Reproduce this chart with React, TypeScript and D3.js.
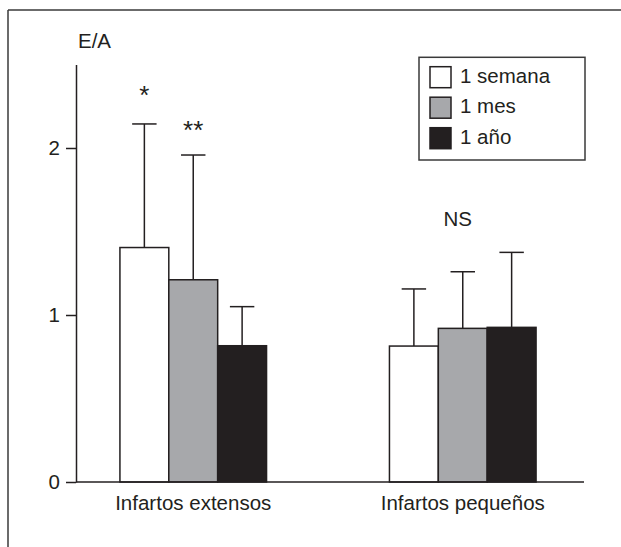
import React from "react";
import * as d3 from "d3";

const groups = ["Infartos extensos", "Infartos pequeños"];
const series = ["1 semana", "1 mes", "1 año"];
const seriesColors = ["#ffffff", "#a7a8ab", "#231f20"];
// mean values per group (rows) and series (cols)
const meanExtensos = [1.404, 1.211, 0.816];
const meanPequenos = [0.814, 0.92, 0.926];
// upper error bar end (mean + SD)
const errExtensos = [2.144, 1.958, 1.05];
const errPequenos = [1.156, 1.259, 1.375];
const yTicks = [0, 1, 2];
const yLabel = "E/A";
const annotations = [
  { group: 0, series: 0, text: "*", value: 2.263 },
  { group: 0, series: 1, text: "**", value: 2.055 },
];
const nsLabel = "NS";

const W = 621;
const H = 547;
const INK = "#231f20";
const FONT = "'Liberation Sans', Arial, Helvetica, sans-serif";

export default function App() {
  const means = [meanExtensos, meanPequenos];
  const errs = [errExtensos, errPequenos];

  const axisX = 76;
  const axisRight = 584;
  const y = d3.scaleLinear().domain([0, 2.5]).range([482, 64.5]);
  const x0 = d3
    .scaleBand<string>()
    .domain(groups)
    .range([axisX, 580])
    .paddingInner(0.456)
    .paddingOuter(0.163);
  const x1 = d3
    .scaleBand<string>()
    .domain(series)
    .range([0, x0.bandwidth()])
    .padding(0);
  const bw = x1.bandwidth();
  const capW = bw / 2;

  const yAxisRef = React.useRef<SVGGElement>(null);
  React.useEffect(() => {
    if (!yAxisRef.current) return;
    const g = d3.select(yAxisRef.current);
    g.call(
      d3
        .axisLeft(y)
        .tickValues(yTicks)
        .tickSize(10)
        .tickSizeOuter(0)
        .tickPadding(6)
        .tickFormat(d3.format("d"))
    );
    g.selectAll("path").attr("stroke", INK).attr("stroke-width", 1.5);
    g.selectAll("line").attr("stroke", INK).attr("stroke-width", 1.5);
    g.selectAll("text")
      .attr("fill", INK)
      .attr("font-size", 20.5)
      .attr("font-family", FONT);
    g.attr("font-family", null).attr("font-size", null);
  });

  const bx = (gi: number, si: number) =>
    (x0(groups[gi]) as number) + (x1(series[si]) as number);

  return (
    <div style={{ position: "fixed", left: 0, top: 0, width: W, height: H, background: "#fff" }}>
      <svg width={W} height={H} style={{ display: "block" }}>
        {/* frame */}
        <line x1={8} y1={10} x2={W} y2={10} stroke="#3a3a3a" strokeWidth={1.5} />
        <line x1={8} y1={10} x2={8} y2={H} stroke="#3a3a3a" strokeWidth={1.5} />

        {/* y label */}
        <text x={78} y={48.3} fontSize={20.5} fontFamily={FONT} fill={INK}>
          {yLabel}
        </text>

        {/* error bars */}
        {groups.map((g, gi) =>
          series.map((s, si) => {
            const cx = bx(gi, si) + bw / 2;
            return (
              <g key={`e-${gi}-${si}`} stroke={INK} strokeWidth={1.5}>
                <line x1={cx} x2={cx} y1={y(means[gi][si])} y2={y(errs[gi][si])} />
                <line x1={cx - capW / 2} x2={cx + capW / 2} y1={y(errs[gi][si])} y2={y(errs[gi][si])} />
              </g>
            );
          })
        )}

        {/* bars */}
        {groups.map((g, gi) =>
          series.map((s, si) => (
            <rect
              key={`b-${gi}-${si}`}
              x={bx(gi, si)}
              y={y(means[gi][si])}
              width={bw}
              height={y(0) - y(means[gi][si])}
              fill={seriesColors[si]}
              stroke={INK}
              strokeWidth={1.5}
            />
          ))
        )}

        {/* x axis line */}
        <line x1={axisX} x2={axisRight} y1={y(0)} y2={y(0)} stroke={INK} strokeWidth={1.5} />
        <g ref={yAxisRef} transform={`translate(${axisX},0)`} />

        {/* category labels */}
        {groups.map((g) => (
          <text
            key={g}
            x={(x0(g) as number) + x0.bandwidth() / 2}
            y={510}
            textAnchor="middle"
            fontSize={20.5}
            fontFamily={FONT}
            fill={INK}
          >
            {g}
          </text>
        ))}

        {/* significance annotations */}
        {annotations.map((a, i) => (
          <text
            key={i}
            x={bx(a.group, a.series) + bw / 2}
            y={y(a.value)}
            textAnchor="middle"
            fontSize={26}
            fontFamily={FONT}
            fill={INK}
          >
            {a.text}
          </text>
        ))}
        <text
          x={(x0(groups[1]) as number) + x0.bandwidth() / 2 - 5}
          y={y(1.53)}
          textAnchor="middle"
          fontSize={20.5}
          fontFamily={FONT}
          fill={INK}
        >
          {nsLabel}
        </text>

        {/* legend */}
        <rect x={419} y={57.3} width={166} height={102.7} fill="#fff" stroke="#3a3a3a" strokeWidth={1.5} />
        {series.map((s, si) => (
          <g key={s} transform={`translate(430,${66.7 + si * 30.5})`}>
            <rect x={0} y={0} width={21} height={21} fill={seriesColors[si]} stroke={INK} strokeWidth={1.5} />
            <text x={30} y={16} fontSize={20.5} fontFamily={FONT} fill={INK}>
              {s}
            </text>
          </g>
        ))}
      </svg>
    </div>
  );
}
